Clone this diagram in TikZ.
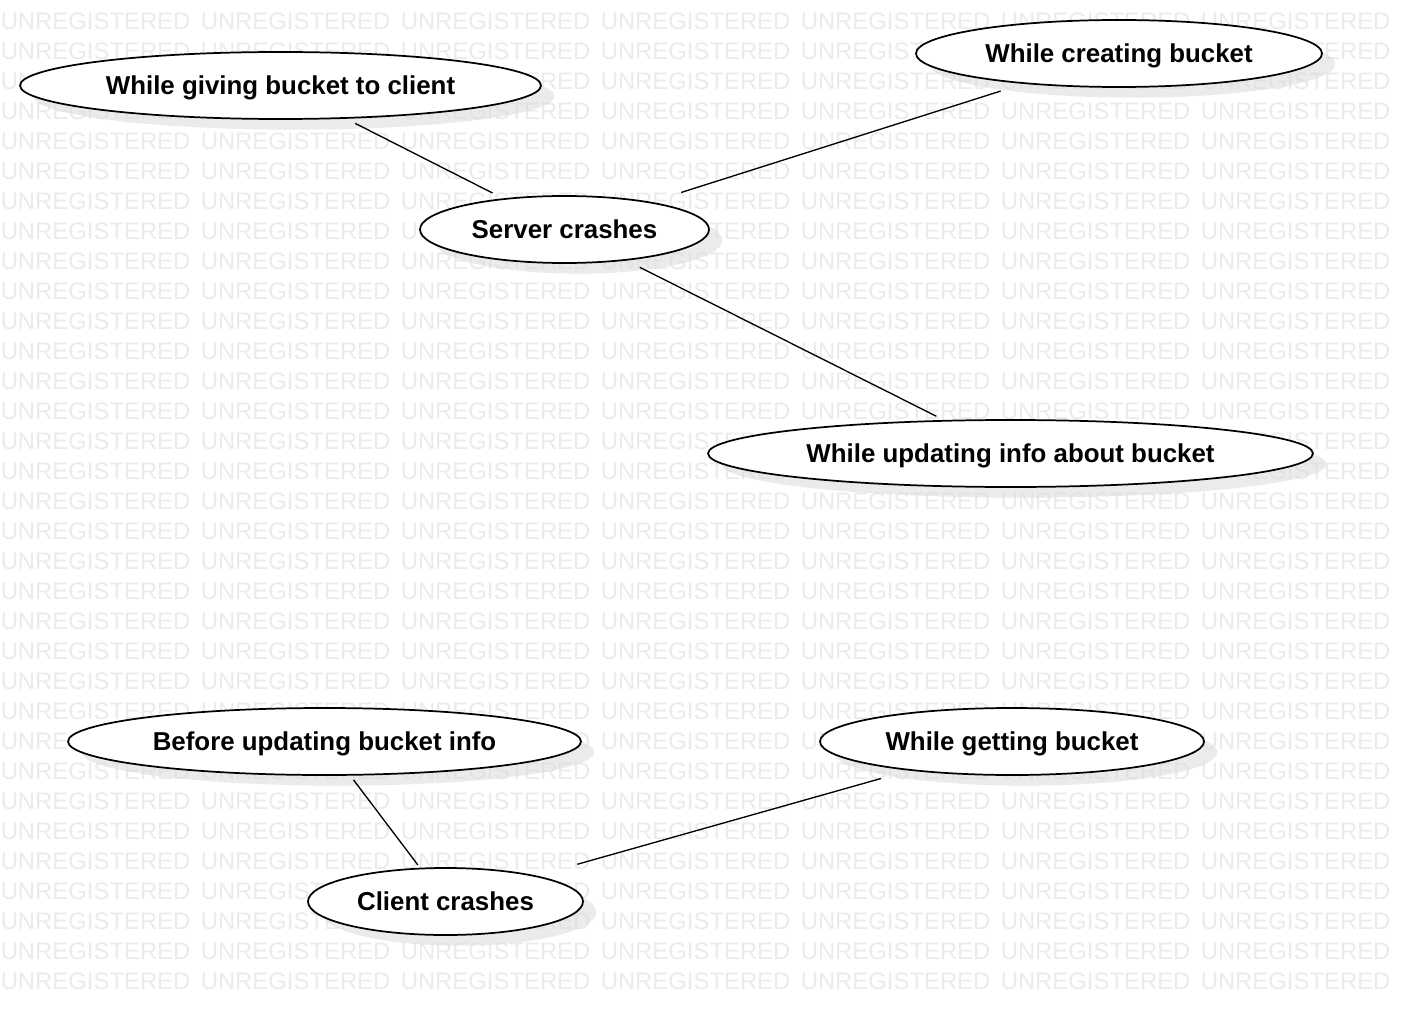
\documentclass[tikz,border=0pt]{standalone}
\usepackage{fontspec}
\setmainfont{Liberation Sans}
\usetikzlibrary{shapes.geometric,shadows}
\definecolor{wmgray}{HTML}{EBEBEB}
\tikzset{
  usecase/.style={ellipse, draw=black, line width=1.3pt, fill=white, inner sep=0pt,
    text height=13.5pt, text depth=0pt,
    font=\fontsize{19.4pt}{23pt}\selectfont\bfseries,
    drop shadow={shadow xshift=10pt, shadow yshift=-8pt, fill=black!14, opacity=0.55}},
  wm/.style={anchor=west, inner sep=0pt, text=wmgray, font=\fontsize{17.9pt}{20pt}\selectfont},
  link/.style={draw=black, line width=1pt}
}
\begin{document}
\begin{tikzpicture}[x=0.75pt,y=-0.75pt]
\useasboundingbox[fill=white] (0,0) rectangle (1402,1016);
% watermark
\foreach \i in {0,...,7}{
  \foreach \k in {0,...,32}{
    \node[wm] (wm-\i-\k) at ({200*\i+0.5},{21+30*\k}) {UNREGISTERED};
  }
}
% use cases
\node[usecase, minimum width=521*0.75pt, minimum height=67*0.75pt] (giving) at (280.5,85.5) {While giving bucket to client};
\node[usecase, minimum width=406*0.75pt, minimum height=67*0.75pt] (creating) at (1119,53.5) {While creating bucket};
\node[usecase, minimum width=289*0.75pt, minimum height=67*0.75pt] (server) at (564.5,229.5) {Server crashes};
\node[usecase, minimum width=605*0.75pt, minimum height=67*0.75pt] (updating) at (1010.5,453.5) {While updating info about bucket};
\node[usecase, minimum width=513*0.75pt, minimum height=67*0.75pt] (before) at (324.5,741.5) {Before updating bucket info};
\node[usecase, minimum width=384*0.75pt, minimum height=67*0.75pt] (getting) at (1012,741.5) {While getting bucket};
\node[usecase, minimum width=275*0.75pt, minimum height=67*0.75pt] (client) at (445.5,901.5) {Client crashes};
% connectors
\draw[link, shorten <=7.7pt, shorten >=8.9pt] (giving) -- (server);
\draw[link, shorten <=17.9pt, shorten >=23.5pt] (creating) -- (server);
\draw[link, shorten <=11.2pt, shorten >=6.2pt] (server) -- (updating);
\draw[link, shorten <=3.9pt, shorten >=2.6pt] (before) -- (client);
\draw[link, shorten <=22pt, shorten >=31.5pt] (getting) -- (client);
\end{tikzpicture}
\end{document}
